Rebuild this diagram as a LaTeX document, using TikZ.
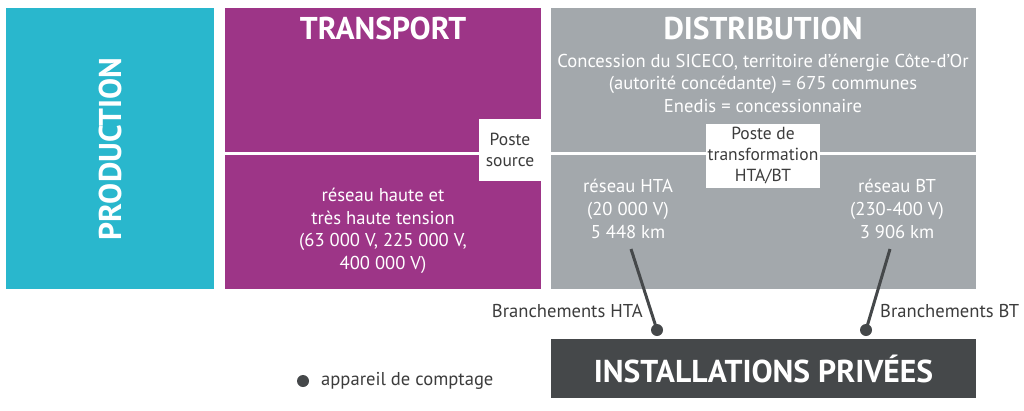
\documentclass[tikz,border=0pt]{standalone}
\usepackage{fontspec}
\setmainfont{PT Sans}
\definecolor{prodc}{HTML}{29B7CD}
\definecolor{transc}{HTML}{9D3587}
\definecolor{distc}{HTML}{A3A8AC}
\definecolor{darkc}{HTML}{45484A}
\definecolor{textc}{HTML}{3C3C3C}
\tikzset{
  blk/.style={draw=none, anchor=north west, inner sep=0pt, outer sep=0pt},
  sep/.style={white, line width=3pt},
  wbox/.style={fill=white, anchor=north west, inner sep=0pt, outer sep=0pt},
  title/.style={text=white, font=\bfseries\fontsize{31.5}{33}\selectfont},
  body/.style={text=white, align=center, font=\fontsize{18.6}{22.6}\selectfont},
  small/.style={text=textc, align=center, font=\fontsize{17.5}{21}\selectfont},
  lbl/.style={text=textc, font=\fontsize{18.6}{20}\selectfont, inner sep=0pt},
  meter/.style={circle, fill=darkc, minimum size=12pt, inner sep=0pt},
  link/.style={darkc, line width=3pt}
}
\begin{document}
\begin{tikzpicture}[x=1pt,y=-1pt]
\useasboundingbox (0,0) rectangle (1024,410);
% blocks
\node[blk, fill=prodc, minimum width=208pt, minimum height=281pt] (prod) at (6,8) {};
\node[blk, fill=transc, minimum width=316pt, minimum height=281pt] (trans) at (225,8) {};
\node[blk, fill=distc, minimum width=425pt, minimum height=281pt] (dist) at (551,8) {};
\draw[sep] (trans.west |- 0,153.5) -- (trans.east |- 0,153.5);
\draw[sep] (dist.west |- 0,153.5) -- (dist.east |- 0,153.5);
% titles
\node[title, rotate=90] (prodt) at (110,149) {PRODUCTION};
\node[title] (transt) at (383,28) {TRANSPORT};
\node[title] (distt) at (763,28) {DISTRIBUTION};
% texts
\node[body] (distx) at (763,83) {Concession du SICECO, territoire d’énergie Côte-d’Or\\(autorité concédante) = 675 communes\\Enedis = concessionnaire};
\node[body] (transx) at (383,231) {réseau haute et\\très haute tension\\(63 000 V, 225 000 V,\\400 000 V)};
\node[body] (hta) at (628,209) {réseau HTA\\(20 000 V)\\5 448 km};
\node[body] (bt) at (897,209) {réseau BT\\(230-400 V)\\3 906 km};
% white boxes
\node[wbox, minimum width=62pt, minimum height=62pt] (ps) at (479,119) {};
\node[small] at (ps.center) {Poste\\source};
\node[wbox, minimum width=114pt, minimum height=64pt] (pt) at (706,124) {};
\node[small] at (pt.center) {Poste de\\transformation\\HTA/BT};
% private installations
\node[blk, fill=darkc, minimum width=425pt, minimum height=59pt] (inst) at (551,339) {};
\node[text=white, font=\bfseries\fontsize{31.6}{33}\selectfont] (instt) at (inst.center) {INSTALLATIONS PRIVÉES};
% connections
\coordinate (htaend) at (631,249);
\coordinate (btend) at (890,249);
\node[meter] (m1) at (657,330) {};
\node[meter] (m2) at (866,330) {};
\draw[link] (htaend) -- (m1.center);
\draw[link] (btend) -- (m2.center);
\node[lbl, anchor=east] (bhta) at (643,311) {Branchements HTA};
\node[lbl, anchor=west] (bbt) at (880,311) {Branchements BT};
% legend
\node[meter] (leg) at (303,381) {};
\node[lbl, anchor=west] (legt) at (321,381) {appareil de comptage};
\end{tikzpicture}
\end{document}
